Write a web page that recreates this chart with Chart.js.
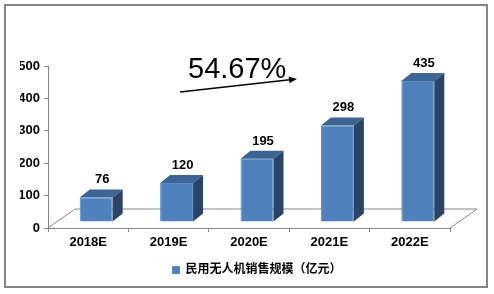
<!DOCTYPE html>
<html>
<head>
<meta charset="utf-8">
<script src="https://cdn.jsdelivr.net/npm/chart.js@4.4.1/dist/chart.umd.min.js"></script>
<style>
  html, body { margin: 0; padding: 0; background: #fff; }
  canvas { display: block; }
</style>
</head>
<body>
<canvas id="marketChart" width="494" height="294"></canvas>
<script>
const years = ['2018E', '2019E', '2020E', '2021E', '2022E'];
const marketSize = [76, 120, 195, 298, 435];
const yTicks = [0, 100, 200, 300, 400, 500];
const seriesName = '民用无人机销售规模（亿元）';
const growthLabel = '54.67%';

const FONT = '"Liberation Sans", Arial, "Noto Sans CJK SC", sans-serif';
const GREY = '#868686';

// 3d look: bars sit a bit behind the front edge of the floor
const shiftX = 8, shiftY = 6;
const depthX = 10, depthY = 8;
const floorX = 27, floorY = 19;

const frame3d = {
    id: 'frame3d',
    beforeDraw(chart) {
        const ctx = chart.ctx;
        ctx.save();
        ctx.fillStyle = '#fff';
        ctx.fillRect(0, 0, chart.width, chart.height);
        ctx.strokeStyle = GREY;
        ctx.lineWidth = 2;
        ctx.strokeRect(5, 5, 482, 282);
        ctx.restore();
    },
    beforeDatasetsDraw(chart) {
        const ctx = chart.ctx;
        const a = chart.chartArea;
        // floor
        ctx.save();
        ctx.strokeStyle = GREY;
        ctx.lineWidth = 1;
        ctx.beginPath();
        ctx.moveTo(a.left, a.bottom);
        ctx.lineTo(a.left + floorX, a.bottom - floorY);
        ctx.lineTo(a.right + floorX, a.bottom - floorY);
        ctx.lineTo(a.right, a.bottom);
        ctx.stroke();
        ctx.restore();

        ctx.save();
        ctx.translate(shiftX, -shiftY);
    },
    afterDatasetsDraw(chart) {
        const ctx = chart.ctx;
        const meta = chart.getDatasetMeta(0);
        meta.data.forEach(function(bar) {
            const p = bar.getProps(['x', 'y', 'base', 'width'], true);
            const x0 = p.x - p.width / 2;
            const x1 = p.x + p.width / 2;
            // top
            ctx.fillStyle = '#3c6495';
            ctx.beginPath();
            ctx.moveTo(x0, p.y);
            ctx.lineTo(x1, p.y);
            ctx.lineTo(x1 + depthX, p.y - depthY);
            ctx.lineTo(x0 + depthX, p.y - depthY);
            ctx.closePath();
            ctx.fill();
            // side
            ctx.fillStyle = '#2a4467';
            ctx.beginPath();
            ctx.moveTo(x1, p.y);
            ctx.lineTo(x1 + depthX, p.y - depthY);
            ctx.lineTo(x1 + depthX, p.base - depthY);
            ctx.lineTo(x1, p.base);
            ctx.closePath();
            ctx.fill();
        });
        // value labels
        ctx.fillStyle = '#000';
        ctx.font = 'bold 13px ' + FONT;
        ctx.textAlign = 'center';
        ctx.textBaseline = 'alphabetic';
        meta.data.forEach(function(bar, i) {
            ctx.fillText(marketSize[i], bar.x + depthX / 2 + 1, bar.y - depthY - 6);
        });
        ctx.restore();
    },
    afterDraw(chart) {
        const ctx = chart.ctx;
        ctx.save();
        ctx.fillStyle = '#000';
        ctx.font = '29px ' + FONT;
        ctx.textAlign = 'left';
        ctx.textBaseline = 'alphabetic';
        ctx.fillText(growthLabel, 188, 78);

        // arrow
        const sx = 180, sy = 92, ex = 297, ey = 79;
        const ang = Math.atan2(ey - sy, ex - sx);
        ctx.strokeStyle = '#000';
        ctx.lineWidth = 1.5;
        ctx.beginPath();
        ctx.moveTo(sx, sy);
        ctx.lineTo(ex - 5 * Math.cos(ang), ey - 5 * Math.sin(ang));
        ctx.stroke();
        ctx.beginPath();
        ctx.moveTo(ex, ey);
        ctx.lineTo(ex - 8 * Math.cos(ang) + 3.5 * Math.sin(ang), ey - 8 * Math.sin(ang) - 3.5 * Math.cos(ang));
        ctx.lineTo(ex - 8 * Math.cos(ang) - 3.5 * Math.sin(ang), ey - 8 * Math.sin(ang) + 3.5 * Math.cos(ang));
        ctx.closePath();
        ctx.fill();
        ctx.restore();
    }
};

const ctx = document.getElementById('marketChart').getContext('2d');

const chart = new Chart(ctx, {
    type: 'bar',
    data: {
        labels: years,
        datasets: [{
            label: seriesName,
            data: marketSize,
            backgroundColor: '#4f81bd',
            borderColor: '#5a8cc8',
            borderWidth: 1,
            categoryPercentage: 1,
            barPercentage: 0.41,
            clip: false
        }]
    },
    options: {
        responsive: false,
        animation: false,
        devicePixelRatio: 1,
        layout: {
            padding: { left: 20, right: 0, top: 66, bottom: 8 }
        },
        plugins: {
            tooltip: { enabled: false },
            legend: {
                position: 'bottom',
                labels: {
                    boxWidth: 7,
                    boxHeight: 7,
                    padding: 10,
                    color: '#000',
                    font: { family: FONT, size: 12, weight: 'bold' }
                }
            }
        },
        scales: {
            x: {
                grid: {
                    display: true,
                    drawOnChartArea: false,
                    color: GREY,
                    tickLength: 4
                },
                border: { color: GREY },
                ticks: {
                    color: '#000',
                    padding: 3,
                    font: { family: FONT, size: 13, weight: 'bold' }
                },
                afterFit(scale) { scale.height = 26; }
            },
            y: {
                min: 0,
                max: 500,
                afterBuildTicks(scale) {
                    scale.ticks = yTicks.map(v => ({ value: v }));
                },
                grid: {
                    display: true,
                    drawOnChartArea: false,
                    color: GREY,
                    tickLength: 4
                },
                border: { color: GREY },
                ticks: {
                    color: '#000',
                    padding: 4,
                    font: { family: FONT, size: 13, weight: 'bold' }
                },
                afterFit(scale) { scale.width = 28; }
            },
            y2: {
                position: 'right',
                display: true,
                grid: { display: false },
                border: { display: false },
                ticks: { display: false },
                afterFit(scale) { scale.width = 44; }
            }
        }
    },
    plugins: [frame3d]
});
</script>
</body>
</html>
